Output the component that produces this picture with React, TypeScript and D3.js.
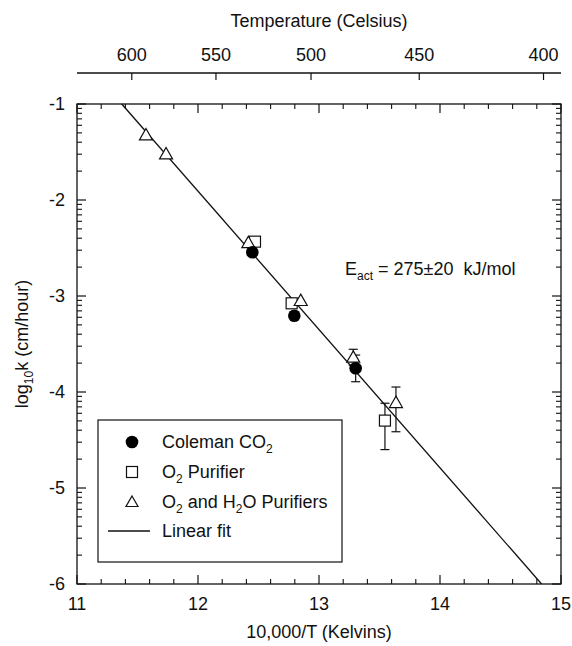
import React from "react";
import * as d3 from "d3";

// Coleman CO2 runs
const colemanX = [12.449, 12.796, 13.303];
const colemanY = [-2.545, -3.205, -3.753];
const colemanHi: (number | null)[] = [null, null, -3.615];
const colemanLo: (number | null)[] = [null, null, -3.893];

// O2 purifier runs
const o2X = [12.471, 12.774, 13.545];
const o2Y = [-2.434, -3.076, -4.298];
const o2Hi: (number | null)[] = [null, null, -4.117];
const o2Lo: (number | null)[] = [null, null, -4.6];

// O2 and H2O purifier runs
const o2h2oX = [11.57, 11.736, 12.416, 12.849, 13.283, 13.636];
const o2h2oY = [-1.323, -1.521, -2.445, -3.048, -3.639, -4.111];
const o2h2oHi: (number | null)[] = [null, null, null, null, -3.555, -3.948];
const o2h2oLo: (number | null)[] = [null, null, null, null, -3.72, -4.414];

// Linear fit: log10 k = fitIntercept + fitSlope * (10000/T)
const fitSlope = -1.441;
const fitIntercept = 15.384;

const xTicks = [11, 12, 13, 14, 15];
const yTicks = [-1, -2, -3, -4, -5, -6];
const celsiusTicks = [600, 550, 500, 450, 400];

const W = 572;
const H = 646;
const M = { left: 77, right: 11, top: 104, bottom: 62 };
const FONT = "'Liberation Sans', Arial, Helvetica, sans-serif";
const FS = 18;

export default function App() {
  const x = d3.scaleLinear().domain([11, 15]).range([M.left, W - M.right]);
  const y = d3.scaleLinear().domain([-6, -1]).range([H - M.bottom, M.top]);
  const x0 = M.left, x1 = W - M.right, y0 = M.top, y1 = H - M.bottom;

  // minor ticks: 0.2 steps on x, log-style (log10 of 2..9) within each decade on y
  const xMinor = d3.range(11, 15.0001, 0.2).filter((v) => Math.abs(v - Math.round(v)) > 1e-6);
  const yMinor: number[] = [];
  for (let n = -6; n < -1; n++) for (let m = 2; m <= 9; m++) yMinor.push(n + Math.log10(m));

  const majLen = 9, minLen = 5;
  const stroke = "#111";

  const fitX0 = (-1 - fitIntercept) / fitSlope;
  const fitX1 = (-6 - fitIntercept) / fitSlope;
  const line = d3.line<[number, number]>().x((d) => x(d[0])).y((d) => y(d[1]));

  const tri = (cx: number, cy: number, s = 6.5) =>
    `M${cx},${cy - s}L${cx + s * 1.0},${cy + s * 0.75}L${cx - s * 1.0},${cy + s * 0.75}Z`;

  const errBars = (xs: number[], hi: (number | null)[], lo: (number | null)[], key: string) =>
    xs.map((xv, i) =>
      hi[i] == null || lo[i] == null ? null : (
        <g key={`${key}${i}`} stroke={stroke} strokeWidth={1.2}>
          <line x1={x(xv)} x2={x(xv)} y1={y(hi[i] as number)} y2={y(lo[i] as number)} />
          <line x1={x(xv) - 4.5} x2={x(xv) + 4.5} y1={y(hi[i] as number)} y2={y(hi[i] as number)} />
          <line x1={x(xv) - 4.5} x2={x(xv) + 4.5} y1={y(lo[i] as number)} y2={y(lo[i] as number)} />
        </g>
      )
    );

  const sub = (t: string) => (
    <tspan fontSize={12} dy={5}>{t}</tspan>
  );
  const up = <tspan dy={-5}></tspan>;

  return (
    <svg
      width={W}
      height={H}
      style={{ position: "absolute", left: 0, top: 0, background: "#fff" }}
      fontFamily={FONT}
    >
      <rect width={W} height={H} fill="#fff" />

      {/* top Celsius axis */}
      <line x1={x0} x2={x1} y1={73} y2={73} stroke={stroke} strokeWidth={1.3} />
      {celsiusTicks.map((c) => {
        const px = x(10000 / (c + 273.15));
        return (
          <g key={`c${c}`}>
            <line x1={px} x2={px} y1={73} y2={80} stroke={stroke} strokeWidth={1.2} />
            <text x={px} y={61} fontSize={FS} textAnchor="middle" fill="#111">{c}</text>
          </g>
        );
      })}
      <text x={(x0 + x1) / 2} y={27} fontSize={FS} textAnchor="middle" fill="#111">
        Temperature (Celsius)
      </text>

      {/* plot frame */}
      <rect x={x0} y={y0} width={x1 - x0} height={y1 - y0} fill="none" stroke={stroke} strokeWidth={1.3} />

      {/* x ticks on bottom and top edges */}
      {xTicks.map((t) => (
        <g key={`xt${t}`} stroke={stroke} strokeWidth={1.2}>
          <line x1={x(t)} x2={x(t)} y1={y1} y2={y1 - majLen} />
          <line x1={x(t)} x2={x(t)} y1={y0} y2={y0 + majLen} />
        </g>
      ))}
      {xMinor.map((t, i) => (
        <g key={`xm${i}`} stroke={stroke} strokeWidth={1.1}>
          <line x1={x(t)} x2={x(t)} y1={y1} y2={y1 - minLen} />
          <line x1={x(t)} x2={x(t)} y1={y0} y2={y0 + minLen} />
        </g>
      ))}
      {xTicks.map((t) => (
        <text key={`xl${t}`} x={x(t)} y={610} fontSize={FS} textAnchor="middle" fill="#111">{t}</text>
      ))}

      {/* y ticks on left and right edges */}
      {yTicks.map((t) => (
        <g key={`yt${t}`} stroke={stroke} strokeWidth={1.2}>
          <line x1={x0} x2={x0 + majLen} y1={y(t)} y2={y(t)} />
          <line x1={x1} x2={x1 - majLen} y1={y(t)} y2={y(t)} />
        </g>
      ))}
      {yMinor.map((t, i) => (
        <g key={`ym${i}`} stroke={stroke} strokeWidth={1.1}>
          <line x1={x0} x2={x0 + minLen} y1={y(t)} y2={y(t)} />
          <line x1={x1} x2={x1 - minLen} y1={y(t)} y2={y(t)} />
        </g>
      ))}
      {yTicks.map((t) => (
        <text key={`yl${t}`} x={65} y={y(t) + 6} fontSize={FS} textAnchor="end" fill="#111">{t}</text>
      ))}

      {/* axis titles */}
      <text x={(x0 + x1) / 2} y={638} fontSize={FS} textAnchor="middle" fill="#111">
        10,000/T (Kelvins)
      </text>
      <text
        transform={`translate(28,${(y0 + y1) / 2}) rotate(-90)`}
        fontSize={FS}
        textAnchor="middle"
        fill="#111"
      >
        log{sub("10")}<tspan dy={-5}>k (cm/hour)</tspan>
      </text>

      {/* fit line */}
      <path
        d={line([[fitX0, -1], [fitX1, -6]]) as string}
        fill="none"
        stroke={stroke}
        strokeWidth={1.3}
      />

      {/* error bars */}
      {errBars(colemanX, colemanHi, colemanLo, "ec")}
      {errBars(o2X, o2Hi, o2Lo, "eo")}
      {errBars(o2h2oX, o2h2oHi, o2h2oLo, "eh")}

      {/* markers */}
      {o2X.map((xv, i) => (
        <rect
          key={`sq${i}`}
          x={x(xv) - 5.5}
          y={y(o2Y[i]) - 5.5}
          width={11}
          height={11}
          fill="#fff"
          stroke={stroke}
          strokeWidth={1.2}
        />
      ))}
      {o2h2oX.map((xv, i) => (
        <path key={`tr${i}`} d={tri(x(xv), y(o2h2oY[i]))} fill="#fff" stroke={stroke} strokeWidth={1.2} />
      ))}
      {colemanX.map((xv, i) => (
        <circle key={`ci${i}`} cx={x(xv)} cy={y(colemanY[i])} r={6.3} fill="#000" />
      ))}

      {/* activation energy note */}
      <text x={345} y={275} fontSize={FS} fill="#111" style={{ whiteSpace: "pre" }}>
        E{sub("act")}<tspan dy={-5}>{" = 275\u00B120  kJ/mol"}</tspan>
      </text>

      {/* legend */}
      <rect x={98} y={420} width={244} height={142} fill="#fff" stroke={stroke} strokeWidth={1.2} />
      <circle cx={132} cy={442} r={6.3} fill="#000" />
      <rect x={132 - 5.5} y={472 - 5.5} width={11} height={11} fill="#fff" stroke={stroke} strokeWidth={1.2} />
      <path d={tri(132, 502, 6)} fill="#fff" stroke={stroke} strokeWidth={1.2} />
      <line x1={108} x2={150} y1={531} y2={531} stroke={stroke} strokeWidth={1.3} />
      <g fontSize={FS} fill="#111">
        <text x={162} y={448}>
          Coleman CO{sub("2")}
        </text>
        <text x={162} y={478}>
          O{sub("2")}<tspan dy={-5}> Purifier</tspan>
        </text>
        <text x={162} y={508}>
          O{sub("2")}<tspan dy={-5}> and H</tspan>{sub("2")}<tspan dy={-5}>O Purifiers</tspan>
        </text>
        <text x={162} y={537}>Linear fit</text>
      </g>
    </svg>
  );
}
